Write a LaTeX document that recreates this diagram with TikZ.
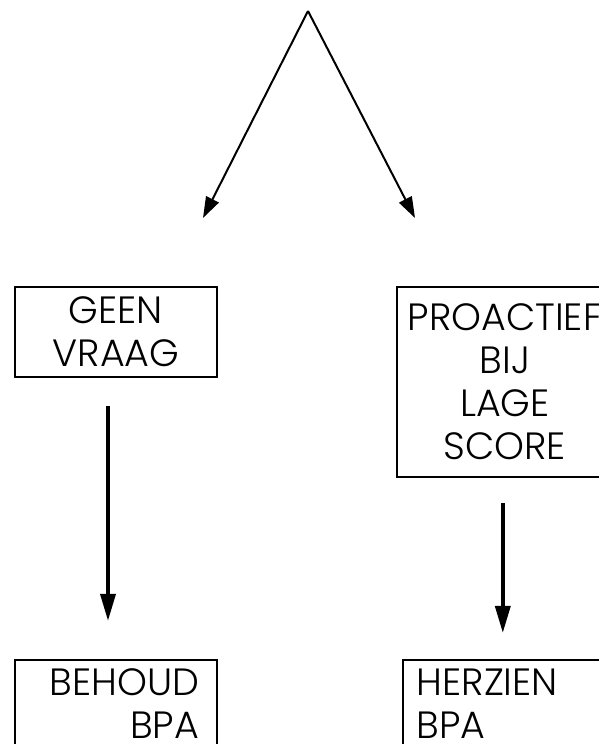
\documentclass[tikz,border=0pt]{standalone}
\usepackage{fontspec}
\setmainfont{Poppins}[UprightFont=* Light]
\usepackage{tikz}
\usetikzlibrary{arrows.meta, positioning}
\tikzset{
  x=1pt, y=-1pt,
  font=\fontsize{38}{43}\selectfont,
  textblock/.style={
    rectangle, draw=black, line width=1.8pt, inner sep=0pt
  },
  flowline/.style={
    draw=black, -{Triangle[length=21pt, width=14pt]}, line width=2pt
  },
  stemline/.style={
    draw=black, -{Triangle[length=27pt, width=15pt]}, line width=3.6pt
  }
}
\begin{document}
\begin{tikzpicture}
  \useasboundingbox (0,0) rectangle (598,744);

  % split at the top
  \coordinate (top) at (308,11);
  \coordinate (leftend) at (203,218);
  \coordinate (rightend) at (415,218);

  \node[textblock, minimum width=202pt, minimum height=90pt, align=center] (geen) at (116,332) {GEEN\\VRAAG};

  \node[textblock, right=178pt of geen.north east, anchor=north west,
        minimum width=216pt, minimum height=190pt, align=center] (proactief) {PROACTIEF\\BIJ\\LAGE\\SCORE};

  \node[textblock, below=281pt of geen, minimum width=202pt, minimum height=88pt,
        text width=166pt, inner xsep=18pt, align=right] (behoud) {BEHOUD\\BPA};

  \node[textblock, below=181pt of proactief, xshift=6pt, minimum width=216pt, minimum height=88pt,
        text width=188pt, inner xsep=14pt, align=left] (herzien) {HERZIEN\\BPA};

  \draw[flowline] (top) -- (leftend);
  \draw[flowline] (top) -- (rightend);
  \draw[stemline, shorten <=28pt, shorten >=38pt] ([xshift=-8pt]geen.south) -- ([xshift=-8pt]geen.south |- behoud.north);
  \draw[stemline, shorten <=25pt, shorten >=26pt] ([xshift=-2pt]proactief.south) -- ([xshift=-2pt]proactief.south |- herzien.north);
\end{tikzpicture}
\end{document}
